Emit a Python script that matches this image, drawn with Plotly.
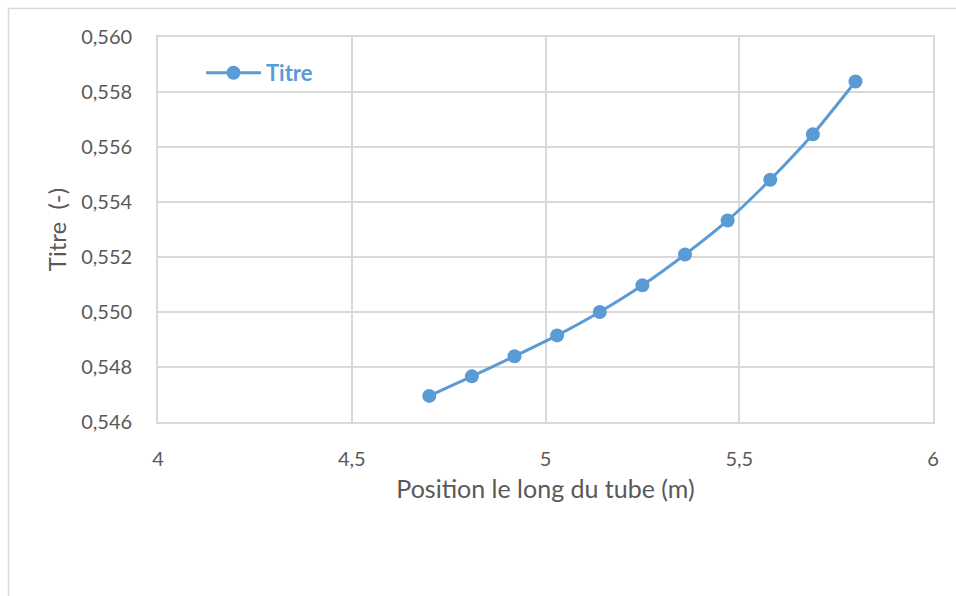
import plotly.graph_objects as go

positions = [4.70, 4.81, 4.92, 5.03, 5.14, 5.25, 5.36, 5.47, 5.58, 5.69, 5.80]
titre = [0.54695, 0.54766, 0.54839, 0.54915, 0.55000, 0.55097,
         0.55209, 0.55333, 0.55481, 0.55646, 0.55838]
series_name = "Titre"
x_title = "Position le long du tube (m)"
y_title = "Titre\u00a0\u00a0(-)"

blue = "#5B9BD5"
grey_text = "#595959"
grid = "#D9D9D9"
font_family = "Lato, 'Open Sans', sans-serif"

fig = go.Figure()
fig.add_trace(go.Scatter(
    x=positions, y=titre, name="<b>" + series_name + "</b>",
    mode="lines+markers",
    line=dict(color=blue, width=3, shape="spline", smoothing=0.6),
    marker=dict(color=blue, size=14),
    showlegend=True,
))

W, H = 956, 596
L, R, T, B = 158, 23, 37, 174
pw, ph = W - L - R, H - T - B

def px_to_paper_x(px):
    return (px - L) / pw

def px_to_paper_y(py):
    return (H - B - py) / ph

fig.update_layout(
    width=W, height=H,
    margin=dict(l=L, r=R, t=T, b=B, pad=0),
    paper_bgcolor="white", plot_bgcolor="white",
    separators=", ",
    font=dict(family=font_family, color=grey_text, size=20),
    showlegend=True,
    legend=dict(
        x=px_to_paper_x(201), y=px_to_paper_y(52), xanchor="left", yanchor="top",
        bgcolor="rgba(0,0,0,0)", borderwidth=0,
        font=dict(family=font_family, color=blue, size=22),
        itemwidth=55,
    ),
    shapes=[dict(
        type="rect", xref="paper", yref="paper",
        x0=px_to_paper_x(8.5), x1=px_to_paper_x(970),
        y0=px_to_paper_y(620), y1=px_to_paper_y(8.5),
        line=dict(color=grid, width=1.5), fillcolor="rgba(0,0,0,0)", layer="below",
    )],
)

fig.update_xaxes(
    range=[4, 6], dtick=0.5, tick0=4,
    showgrid=True, gridcolor=grid, gridwidth=1.6,
    showline=True, mirror=True, linecolor=grid, linewidth=1.6,
    zeroline=False, ticks="", ticklabelstandoff=18,
    tickfont=dict(size=20, color=grey_text, family=font_family),
    title=dict(text=x_title, font=dict(size=25, color=grey_text, family=font_family), standoff=12),
)
fig.update_yaxes(
    range=[0.546, 0.560], dtick=0.002, tick0=0.546, tickformat=".3f",
    showgrid=True, gridcolor=grid, gridwidth=1.6,
    showline=True, mirror=True, linecolor=grid, linewidth=1.6,
    zeroline=False, ticks="", ticklabelstandoff=20,
    tickfont=dict(size=20, color=grey_text, family=font_family),
    title=dict(text=y_title, font=dict(size=24, color=grey_text, family=font_family), standoff=8),
)

fig.write_html("out.html")
